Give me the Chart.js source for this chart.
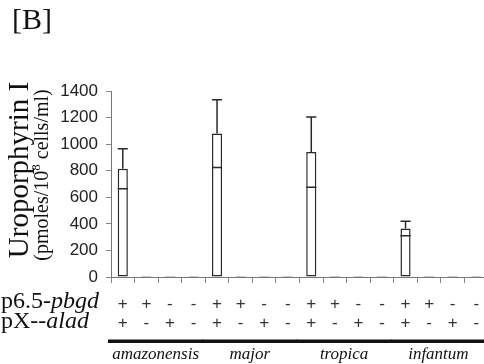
<!DOCTYPE html>
<html>
<head>
<meta charset="utf-8">
<script src="https://cdn.jsdelivr.net/npm/chart.js@4.4.1/dist/chart.umd.min.js"></script>
<style>
  html, body { margin: 0; padding: 0; background: #fff; overflow: hidden; }
  #wrap { position: absolute; left: 0; top: 0; width: 488px; height: 364px; }
</style>
</head>
<body>
<div id="wrap"><canvas id="chart"></canvas></div>
<script>
// datos
const pbgdSigns = ['+', '+', '-', '-', '+', '+', '-', '-', '+', '+', '-', '-', '+', '+', '-', '-'];
const aladSigns = ['+', '-', '+', '-', '+', '-', '+', '-', '+', '-', '+', '-', '+', '-', '+', '-'];
const species = ['amazonensis', 'major', 'tropica', 'infantum'];
const uroValues = [815, 8, 8, 8, 1080, 8, 8, 8, 940, 8, 8, 8, 365, 8, 8, 8];
const uroErrors = [150, 0, 0, 0, 255, 0, 0, 0, 265, 0, 0, 0, 55, 0, 0, 0];
const yTicks = [0, 200, 400, 600, 800, 1000, 1200, 1400];

const INK = '#2a2a2a';
const SERIF = '"Liberation Serif", "DejaVu Serif", serif';
const SANS = '"Liberation Sans", Arial, sans-serif';

// barras de error + textos de abajo
const extras = {
    id: 'extras',
    afterDatasetsDraw(chart) {
        const ctx = chart.ctx;
        const meta = chart.getDatasetMeta(0);
        const y = chart.scales.y;
        ctx.save();
        ctx.strokeStyle = INK;
        ctx.lineWidth = 1.5;
        meta.data.forEach((bar, i) => {
            const err = uroErrors[i];
            if (!err) return;
            const half = bar.width / 2;
            const yTop = y.getPixelForValue(uroValues[i] + err);
            const yBot = y.getPixelForValue(uroValues[i] - err);
            ctx.beginPath();
            ctx.moveTo(bar.x, bar.y);
            ctx.lineTo(bar.x, yTop);
            ctx.moveTo(bar.x - half, yTop);
            ctx.lineTo(bar.x + half, yTop);
            ctx.moveTo(bar.x - half, yBot);
            ctx.lineTo(bar.x + half, yBot);
            ctx.stroke();
        });
        ctx.restore();
    },
    afterDraw(chart) {
        const ctx = chart.ctx;
        const x = chart.scales.x;
        const area = chart.chartArea;
        const step = (area.right - area.left) / pbgdSigns.length;
        ctx.save();
        ctx.fillStyle = '#111';

        // [B]
        ctx.font = '30px ' + SERIF;
        ctx.textBaseline = 'top';
        ctx.textAlign = 'left';
        ctx.fillText('[B]', 12, 6);

        // titulo eje y
        ctx.save();
        ctx.translate(20, 170);
        ctx.rotate(-Math.PI / 2);
        ctx.textAlign = 'center';
        ctx.textBaseline = 'middle';
        ctx.font = '29px ' + SERIF;
        ctx.fillText('Uroporphyrin I', 0, 0);
        ctx.restore();

        ctx.save();
        ctx.translate(43, 175);
        ctx.rotate(-Math.PI / 2);
        ctx.textBaseline = 'middle';
        const p1 = '(pmoles/10', sup = '8', p2 = ' cells/ml)';
        ctx.font = '20px ' + SERIF;
        const w1 = ctx.measureText(p1).width, w3 = ctx.measureText(p2).width;
        ctx.font = '13px ' + SERIF;
        const w2 = ctx.measureText(sup).width;
        let cx = -(w1 + w2 + w3) / 2;
        ctx.textAlign = 'left';
        ctx.font = '20px ' + SERIF;
        ctx.fillText(p1, cx, 0);
        cx += w1;
        ctx.font = '13px ' + SERIF;
        ctx.fillText(sup, cx, -6);
        cx += w2;
        ctx.font = '20px ' + SERIF;
        ctx.fillText(p2, cx, 0);
        ctx.restore();

        // etiquetas de filas
        function mixed(a, b, px, py) {
            ctx.textAlign = 'left';
            ctx.textBaseline = 'middle';
            ctx.font = '24px ' + SERIF;
            ctx.fillText(a, px, py);
            const w = ctx.measureText(a).width;
            ctx.font = 'italic 24px ' + SERIF;
            ctx.fillText(b, px + w, py);
        }
        mixed('p6.5-', 'pbgd', 1, 302);
        mixed('pX--', 'alad', 1, 322);

        // signos + / -
        ctx.fillStyle = '#333';
        ctx.font = '17px ' + SANS;
        ctx.textAlign = 'center';
        ctx.textBaseline = 'middle';
        pbgdSigns.forEach((s, i) => ctx.fillText(s, x.getPixelForValue(i), 304));
        aladSigns.forEach((s, i) => ctx.fillText(s, x.getPixelForValue(i), 323));

        // lineas de grupo y especies
        ctx.fillStyle = '#111';
        ctx.font = 'italic 17px ' + SERIF;
        species.forEach((sp, g) => {
            const x0 = area.left + g * 4 * step - 3;
            const x1 = area.left + (g + 1) * 4 * step - 2;
            ctx.fillRect(x0, 339.5, x1 - x0, 3.5);
            ctx.fillText(sp, (x0 + x1) / 2, 355);
        });
        ctx.restore();
    }
};

new Chart(document.getElementById('chart'), {
    type: 'bar',
    data: {
        labels: pbgdSigns.map((s, i) => s + aladSigns[i]),
        datasets: [{
            data: uroValues,
            backgroundColor: '#ffffff',
            borderColor: INK,
            borderWidth: 1.5,
            borderSkipped: false,
            barPercentage: 0.43,
            categoryPercentage: 1
        }]
    },
    options: {
        responsive: true,
        maintainAspectRatio: false,
        animation: false,
        layout: { padding: { top: 91, left: 0, right: 0, bottom: 0 } },
        plugins: { legend: { display: false }, tooltip: { enabled: false } },
        scales: {
            x: {
                grid: { drawOnChartArea: false, tickLength: 6, color: '#888', offset: true },
                border: { color: '#777', width: 1 },
                ticks: { display: false },
                afterFit(scale) { scale.height = 87; }
            },
            y: {
                min: 0,
                max: 1400,
                afterBuildTicks(scale) { scale.ticks = yTicks.map(v => ({ value: v })); },
                grid: { drawOnChartArea: false, tickLength: 5, color: '#888' },
                border: { color: '#777', width: 1 },
                ticks: { color: '#222', padding: 8, font: { family: SANS, size: 17 }, callback: v => String(v) },
                afterFit(scale) { scale.width = 111; }
            }
        }
    },
    plugins: [extras]
});
</script>
</body>
</html>
